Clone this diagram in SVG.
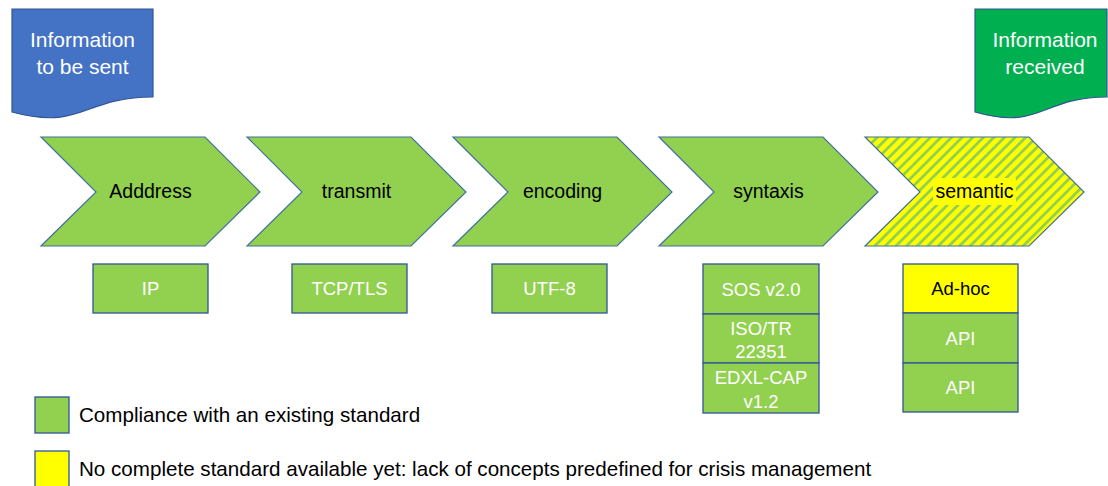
<svg xmlns="http://www.w3.org/2000/svg" width="1108" height="486" viewBox="0 0 1108 486">
  <style>
    .chev { fill: #92D050; stroke: #41719C; stroke-width: 1.2; }
    .box { fill: #92D050; stroke: #2F5597; stroke-width: 1.3; }
    .ybox { fill: #FFFF00; stroke: #2F5597; stroke-width: 1.3; }
    .doc { stroke: #2F5597; stroke-width: 1.2; }
    .lbl { font-family: "Liberation Sans", Arial, sans-serif; font-size: 19.5px; fill: #000; text-anchor: middle; }
    .btxt { font-family: "Liberation Sans", Arial, sans-serif; font-size: 18.5px; fill: #fff; text-anchor: middle; }
    .dtxt { font-family: "Liberation Sans", Arial, sans-serif; font-size: 21px; fill: #fff; text-anchor: middle; }
    .leg { font-family: "Liberation Sans", Arial, sans-serif; font-size: 20.6px; fill: #000; }
  </style>
  <defs>
    <pattern id="hatch" patternUnits="userSpaceOnUse" width="7.5" height="7.5" patternTransform="rotate(45)">
      <rect x="0" y="0" width="7.5" height="7.5" fill="#FFFF00"/>
      <rect x="0" y="0" width="2.8" height="7.5" fill="#92D050"/>
    </pattern>
    <path id="chevShape" d="M0,0 H164 L219,55 L164,109 H0 L55,55 Z"/>
  </defs>

  <!-- source / destination documents -->
  <g id="doc-sent">
    <path class="doc" fill="#4472C4" d="M12,9 H153 V97 C82.5,97 82.5,131 12,112 Z"/>
    <text class="dtxt" x="82.5" y="47">Information</text>
    <text class="dtxt" x="82.5" y="74">to be sent</text>
  </g>
  <g id="doc-received">
    <path class="doc" fill="#00B050" d="M975,9 H1107 V97 C1041,97 1041,131 975,112 Z"/>
    <text class="dtxt" x="1045" y="47">Information</text>
    <text class="dtxt" x="1045" y="74">received</text>
  </g>

  <!-- process chevrons -->
  <g id="step-address">
    <use href="#chevShape" class="chev" x="41" y="137"/>
    <text class="lbl" x="150.5" y="198">Adddress</text>
  </g>
  <g id="step-transmit">
    <use href="#chevShape" class="chev" x="247" y="137"/>
    <text class="lbl" x="356.5" y="198">transmit</text>
  </g>
  <g id="step-encoding">
    <use href="#chevShape" class="chev" x="453" y="137"/>
    <text class="lbl" x="562.5" y="198">encoding</text>
  </g>
  <g id="step-syntaxis">
    <use href="#chevShape" class="chev" x="659" y="137"/>
    <text class="lbl" x="768.5" y="198">syntaxis</text>
  </g>
  <g id="step-semantic">
    <use href="#chevShape" x="865" y="137" fill="url(#hatch)" stroke="#41719C" stroke-width="1.2"/>
    <rect x="933" y="178" width="83" height="27" fill="#FFFF00"/>
    <text class="lbl" x="974.5" y="198">semantic</text>
  </g>

  <!-- standards per step -->
  <g id="std-ip">
    <rect class="box" x="93" y="264" width="115" height="49"/>
    <text class="btxt" x="150.5" y="295">IP</text>
  </g>
  <g id="std-tcp">
    <rect class="box" x="292" y="264" width="115" height="49"/>
    <text class="btxt" x="349.5" y="295">TCP/TLS</text>
  </g>
  <g id="std-utf8">
    <rect class="box" x="492" y="264" width="115" height="49"/>
    <text class="btxt" x="549.5" y="295">UTF-8</text>
  </g>
  <g id="std-sos">
    <rect class="box" x="703" y="264" width="116" height="50"/>
    <text class="btxt" x="761" y="296">SOS v2.0</text>
  </g>
  <g id="std-iso">
    <rect class="box" x="703" y="314" width="116" height="49"/>
    <text class="btxt" x="761" y="335">ISO/TR</text>
    <text class="btxt" x="761" y="358">22351</text>
  </g>
  <g id="std-edxl">
    <rect class="box" x="703" y="363" width="116" height="50"/>
    <text class="btxt" x="761" y="384">EDXL-CAP</text>
    <text class="btxt" x="761" y="408">v1.2</text>
  </g>
  <g id="std-adhoc">
    <rect class="ybox" x="903" y="264" width="115" height="49"/>
    <text class="btxt" x="960.5" y="295" style="fill:#000">Ad-hoc</text>
  </g>
  <g id="std-api-1">
    <rect class="box" x="903" y="313" width="115" height="50"/>
    <text class="btxt" x="960.5" y="345">API</text>
  </g>
  <g id="std-api-2">
    <rect class="box" x="903" y="363" width="115" height="49"/>
    <text class="btxt" x="960.5" y="394">API</text>
  </g>

  <!-- legend -->
  <g id="legend-standard">
    <rect class="box" x="35" y="397" width="34" height="36"/>
    <text class="leg" x="79" y="422">Compliance with an existing standard</text>
  </g>
  <g id="legend-missing">
    <rect class="ybox" x="35" y="451" width="34" height="36"/>
    <text class="leg" x="79" y="476">No complete standard available yet: lack of concepts predefined for crisis management</text>
  </g>

  <g id="connectors"></g>
</svg>
